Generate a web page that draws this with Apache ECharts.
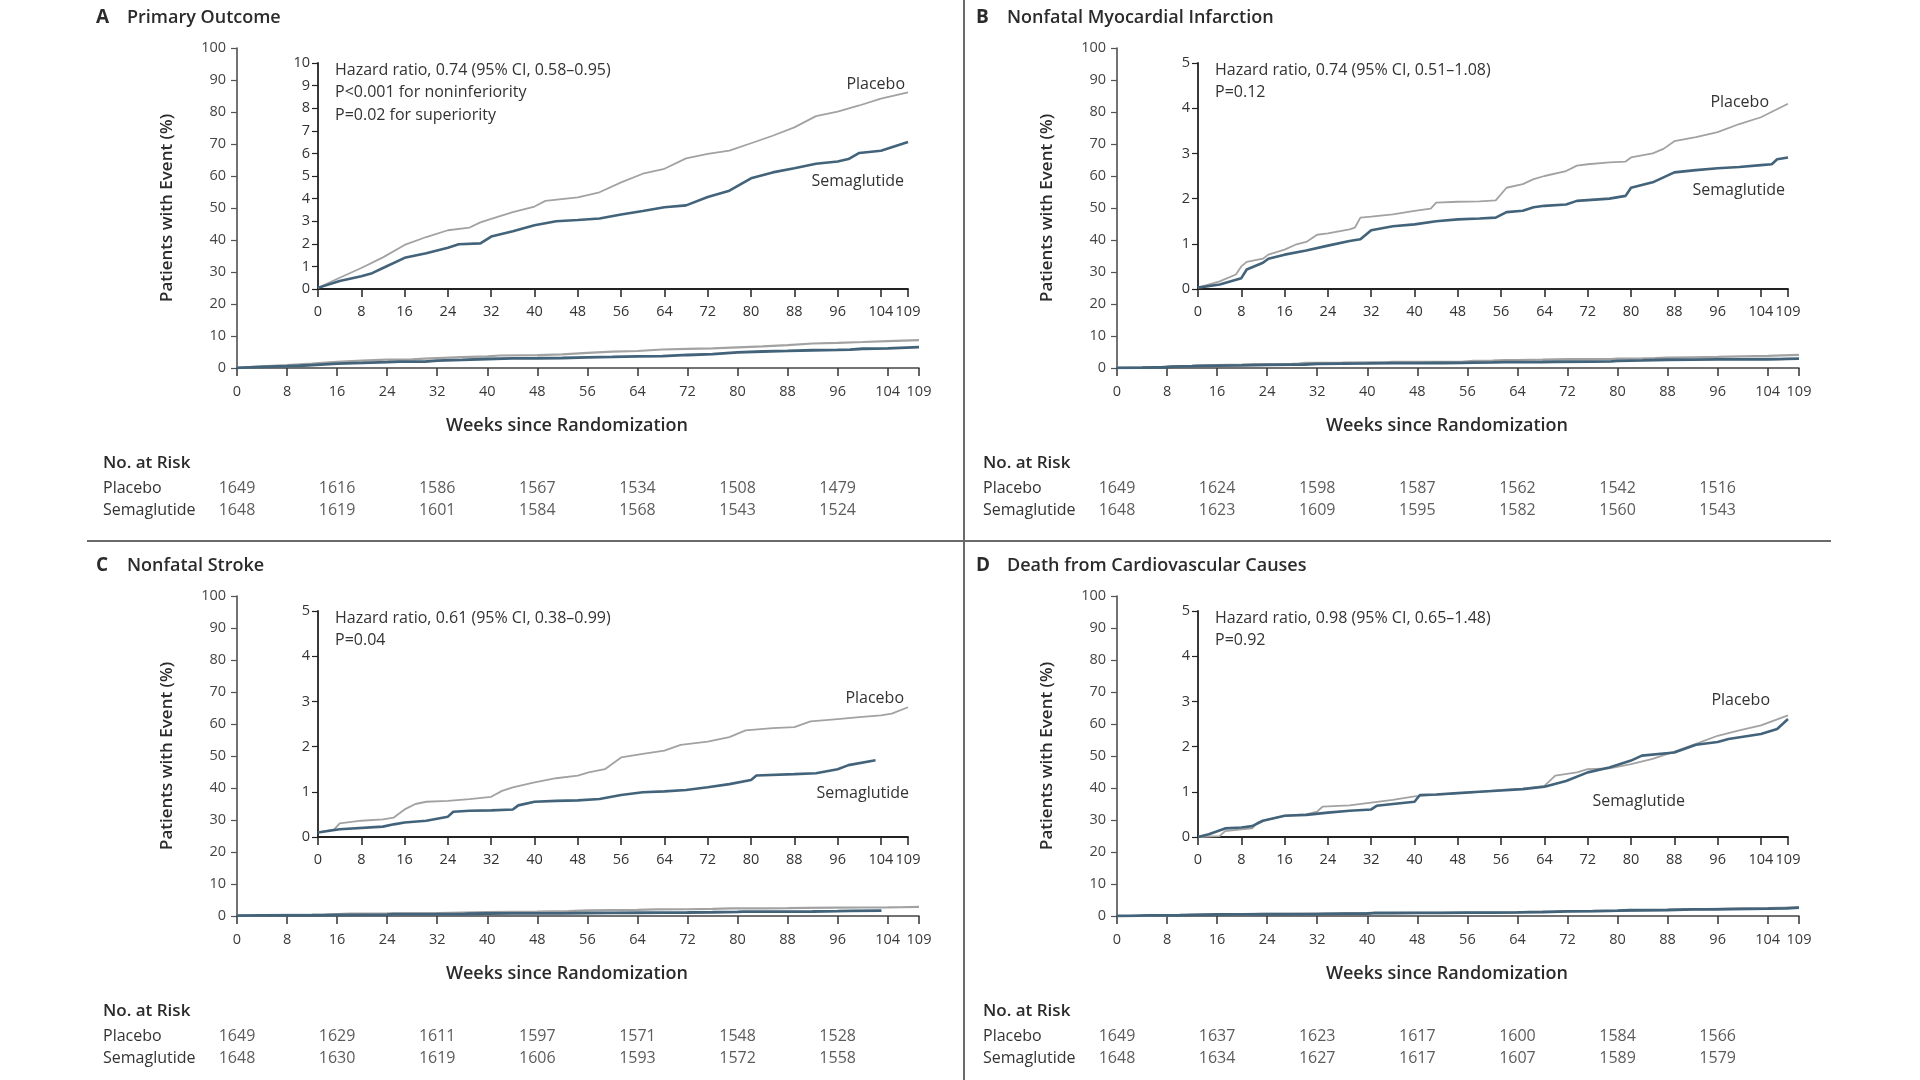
<!DOCTYPE html>
<html>
<head>
<meta charset="utf-8">
<script src="https://cdn.jsdelivr.net/npm/echarts@6/dist/echarts.min.js"></script>
<style>
html,body{margin:0;padding:0;background:#fff;}
#chart{width:1920px;height:1080px;}
</style>
</head>
<body>
<div id="chart"></div>
<script>
// ---------- tick labels ----------
const weekTicks = [0, 8, 16, 24, 32, 40, 48, 56, 64, 72, 80, 88, 96, 104, 109];
const riskWeeks = [0, 16, 32, 48, 64, 80, 96];
const riskRows = ['Placebo', 'Semaglutide'];

// ---------- panel texts ----------
const panelLetters = ['A', 'B', 'C', 'D'];
const panelTitles = ['Primary Outcome', 'Nonfatal Myocardial Infarction', 'Nonfatal Stroke', 'Death from Cardiovascular Causes'];
const aNotes = ['Hazard ratio, 0.74 (95% CI, 0.58\u20130.95)', 'P<0.001 for noninferiority', 'P=0.02 for superiority'];
const bNotes = ['Hazard ratio, 0.74 (95% CI, 0.51\u20131.08)', 'P=0.12'];
const cNotes = ['Hazard ratio, 0.61 (95% CI, 0.38\u20130.99)', 'P=0.04'];
const dNotes = ['Hazard ratio, 0.98 (95% CI, 0.65\u20131.48)', 'P=0.92'];
const insetMax = [10, 5, 5, 5];

// ---------- A: Primary outcome ----------
const aPlaceboWeeks = [0, 4, 8, 12, 16, 20, 24, 28, 30, 32, 36, 40, 42, 48, 52, 56, 60, 64, 68, 72, 76, 80, 84, 88, 92, 96, 100, 104, 109];
const aPlaceboPct   = [0.05, 0.5, 0.93, 1.4, 1.95, 2.3, 2.6, 2.72, 2.95, 3.1, 3.4, 3.65, 3.9, 4.05, 4.28, 4.72, 5.1, 5.32, 5.78, 5.98, 6.12, 6.45, 6.78, 7.15, 7.65, 7.85, 8.12, 8.42, 8.7];
const aSemaWeeks = [0, 4, 8, 10, 12, 16, 20, 24, 26, 30, 32, 36, 40, 44, 48, 52, 56, 60, 64, 68, 72, 76, 80, 84, 88, 92, 96, 98, 100, 104, 109];
const aSemaPct   = [0.05, 0.35, 0.56, 0.7, 0.93, 1.38, 1.58, 1.83, 1.98, 2.02, 2.32, 2.56, 2.82, 3.0, 3.05, 3.12, 3.3, 3.45, 3.62, 3.7, 4.07, 4.35, 4.9, 5.16, 5.34, 5.54, 5.64, 5.75, 6.02, 6.12, 6.5];
const aPlaceboRisk = [1649, 1616, 1586, 1567, 1534, 1508, 1479];
const aSemaRisk    = [1648, 1619, 1601, 1584, 1568, 1543, 1524];

// ---------- B: Nonfatal MI ----------
const bPlaceboWeeks = [0, 4, 7, 8, 9, 12, 13, 16, 18, 20, 22, 24, 28, 29, 30, 32, 36, 40, 43, 44, 48, 52, 55, 57, 60, 62, 64, 68, 70, 72, 76, 79, 80, 84, 86, 88, 92, 96, 100, 104, 109];
const bPlaceboPct   = [0.03, 0.17, 0.32, 0.5, 0.6, 0.67, 0.76, 0.87, 0.98, 1.04, 1.2, 1.23, 1.32, 1.36, 1.58, 1.6, 1.65, 1.73, 1.78, 1.91, 1.93, 1.94, 1.96, 2.24, 2.32, 2.43, 2.5, 2.61, 2.73, 2.76, 2.8, 2.82, 2.91, 3.0, 3.1, 3.27, 3.36, 3.47, 3.65, 3.8, 4.1];
const bSemaWeeks = [0, 4, 8, 9, 12, 13, 16, 20, 24, 28, 30, 32, 36, 40, 44, 48, 52, 55, 57, 60, 62, 64, 68, 70, 76, 79, 80, 84, 88, 92, 96, 100, 104, 106, 107, 109];
const bSemaPct   = [0.03, 0.1, 0.24, 0.43, 0.58, 0.67, 0.76, 0.85, 0.96, 1.06, 1.1, 1.3, 1.39, 1.43, 1.5, 1.54, 1.56, 1.58, 1.7, 1.73, 1.81, 1.84, 1.87, 1.95, 2.0, 2.06, 2.24, 2.36, 2.58, 2.63, 2.67, 2.7, 2.74, 2.76, 2.87, 2.91];
const bPlaceboRisk = [1649, 1624, 1598, 1587, 1562, 1542, 1516];
const bSemaRisk    = [1648, 1623, 1609, 1595, 1582, 1560, 1543];

// ---------- C: Nonfatal stroke ----------
const cPlaceboWeeks = [0, 3, 4, 8, 12, 14, 16, 18, 20, 24, 28, 32, 34, 36, 40, 44, 48, 50, 53, 56, 60, 64, 67, 72, 76, 79, 84, 88, 91, 96, 100, 104, 106, 109];
const cPlaceboPct   = [0.1, 0.17, 0.3, 0.36, 0.39, 0.43, 0.61, 0.73, 0.78, 0.8, 0.84, 0.89, 1.02, 1.1, 1.21, 1.3, 1.36, 1.43, 1.5, 1.76, 1.84, 1.91, 2.04, 2.11, 2.21, 2.36, 2.41, 2.43, 2.56, 2.61, 2.65, 2.69, 2.73, 2.87];
const cSemaWeeks = [0, 4, 12, 14, 16, 20, 24, 25, 28, 32, 36, 37, 40, 44, 48, 52, 56, 60, 64, 68, 72, 76, 80, 81, 88, 92, 96, 98, 103];
const cSemaPct   = [0.1, 0.17, 0.23, 0.28, 0.32, 0.36, 0.45, 0.56, 0.58, 0.59, 0.61, 0.7, 0.78, 0.8, 0.81, 0.84, 0.93, 0.99, 1.01, 1.04, 1.1, 1.17, 1.26, 1.36, 1.39, 1.41, 1.5, 1.59, 1.7];
const cPlaceboRisk = [1649, 1629, 1611, 1597, 1571, 1548, 1528];
const cSemaRisk    = [1648, 1630, 1619, 1606, 1593, 1572, 1558];

// ---------- D: CV death ----------
const dPlaceboWeeks = [0, 4, 5, 8, 10, 11, 12, 16, 20, 22, 23, 28, 32, 36, 40, 44, 48, 52, 56, 60, 64, 66, 70, 72, 76, 80, 84, 88, 92, 96, 100, 104, 109];
const dPlaceboPct   = [0, 0.02, 0.13, 0.17, 0.19, 0.32, 0.36, 0.47, 0.5, 0.56, 0.67, 0.7, 0.76, 0.82, 0.9, 0.93, 0.97, 1.0, 1.04, 1.07, 1.13, 1.36, 1.43, 1.5, 1.52, 1.61, 1.73, 1.89, 2.06, 2.24, 2.36, 2.47, 2.69];
const dSemaWeeks = [0, 2, 5, 8, 10, 12, 16, 20, 24, 28, 32, 33, 36, 40, 41, 44, 48, 52, 56, 60, 64, 68, 72, 76, 80, 82, 88, 92, 96, 98, 104, 107, 109];
const dSemaPct   = [0, 0.06, 0.19, 0.21, 0.24, 0.36, 0.47, 0.49, 0.54, 0.58, 0.61, 0.69, 0.73, 0.78, 0.93, 0.94, 0.97, 1.0, 1.03, 1.06, 1.11, 1.24, 1.43, 1.54, 1.69, 1.8, 1.87, 2.04, 2.1, 2.17, 2.28, 2.39, 2.61];
const dPlaceboRisk = [1649, 1637, 1623, 1617, 1600, 1584, 1566];
const dSemaRisk    = [1648, 1634, 1627, 1617, 1607, 1589, 1579];

// ---------- assemble ----------
const panels = [
  {notes: aNotes, pw: aPlaceboWeeks, pv: aPlaceboPct, sw: aSemaWeeks, sv: aSemaPct, pr: aPlaceboRisk, sr: aSemaRisk,
   pLab: [905, 84], sLab: [904, 181]},
  {notes: bNotes, pw: bPlaceboWeeks, pv: bPlaceboPct, sw: bSemaWeeks, sv: bSemaPct, pr: bPlaceboRisk, sr: bSemaRisk,
   pLab: [889, 102], sLab: [905, 190]},
  {notes: cNotes, pw: cPlaceboWeeks, pv: cPlaceboPct, sw: cSemaWeeks, sv: cSemaPct, pr: cPlaceboRisk, sr: cSemaRisk,
   pLab: [904, 150], sLab: [909, 245]},
  {notes: dNotes, pw: dPlaceboWeeks, pv: dPlaceboPct, sw: dSemaWeeks, sv: dSemaPct, pr: dPlaceboRisk, sr: dSemaRisk,
   pLab: [890, 152], sLab: [805, 253]}
];

const FONT = 'Open Sans';
const TXT = '#2b2b2b';
const PLACEBO_COLOR = '#a2a2a2';
const SEMA_COLOR = '#42637a';

const zip = (xs, ys) => xs.map((x, i) => [x, ys[i]]);

const grid = [], xAxis = [], yAxis = [], series = [], graphic = [];

panels.forEach((p, i) => {
  const dx = (i % 2) * 880;
  const dy = Math.floor(i / 2) * 548;
  const gMain = grid.length;
  grid.push({left: 237 + dx, top: 48 + dy, width: 682, height: 320});
  const gInset = grid.length;
  grid.push({left: 318 + dx, top: 63 + dy, width: 590, height: 226});
  const gRisk = grid.length;
  grid.push({left: 237 + dx, top: 477 + dy, width: 682, height: 44});

  // main axes
  xAxis.push({
    gridIndex: gMain, type: 'value', min: 0, max: 109, interval: 8,
    axisLine: {lineStyle: {color: '#444', width: 1.5}},
    axisTick: {length: 8, lineStyle: {color: '#333', width: 1.5}},
    axisLabel: {margin: 16, fontSize: 14.5, fontFamily: FONT, color: '#3a3a3a', showMaxLabel: true, showMinLabel: true},
    splitLine: {show: false},
    name: 'Weeks since Randomization', nameLocation: 'middle', nameGap: 49,
    nameTextStyle: {fontSize: 18, fontWeight: 600, fontFamily: FONT, color: TXT, padding: [0, 22, 0, 0]}
  });
  yAxis.push({
    gridIndex: gMain, type: 'value', min: 0, max: 100, interval: 10,
    axisLine: {show: true, lineStyle: {color: '#444', width: 1.5}},
    axisTick: {show: true, length: 6, lineStyle: {color: '#555', width: 1.2}},
    axisLabel: {margin: 11, fontSize: 14.5, fontFamily: FONT, color: '#444'},
    splitLine: {show: false},
    name: 'Patients with Event (%)', nameLocation: 'middle', nameGap: 61,
    nameTextStyle: {fontSize: 17, fontWeight: 600, fontFamily: FONT, color: TXT}
  });
  // inset axes
  xAxis.push({
    gridIndex: gInset, type: 'value', min: 0, max: 109, interval: 8,
    axisLine: {lineStyle: {color: '#222', width: 1.8}},
    axisTick: {length: 8, lineStyle: {color: '#222', width: 1.5}},
    axisLabel: {margin: 15, fontSize: 14.5, fontFamily: FONT, color: '#333', showMaxLabel: true, showMinLabel: true},
    splitLine: {show: false}
  });
  yAxis.push({
    gridIndex: gInset, type: 'value', min: 0, max: insetMax[i], interval: 1,
    axisLine: {show: true, lineStyle: {color: '#222', width: 1.8}},
    axisTick: {show: true, length: 6, lineStyle: {color: '#222', width: 1.2}},
    axisLabel: {margin: 8, fontSize: 14.5, fontFamily: FONT, color: '#333'},
    splitLine: {show: false}
  });
  // risk table axes
  xAxis.push({gridIndex: gRisk, type: 'value', min: 0, max: 109, show: false});
  yAxis.push({
    gridIndex: gRisk, type: 'category', data: riskRows, inverse: true,
    axisLine: {show: false}, axisTick: {show: false}, splitLine: {show: false},
    axisLabel: {align: 'left', margin: 134, fontSize: 16, fontFamily: FONT, color: '#333'}
  });

  const ax = xAxis.length; // indices: main = ax-3, inset = ax-2, risk = ax-1
  const iMain = ax - 3, iInset = ax - 2, iRisk = ax - 1;

  [[iMain, 2.2, 2.8], [iInset, 1.8, 2.6]].forEach(([idx, pwid, swid]) => {
    series.push({
      type: 'line', name: 'Placebo', xAxisIndex: idx, yAxisIndex: idx,
      data: zip(p.pw, p.pv), showSymbol: false, symbol: 'none', silent: true,
      lineStyle: {color: PLACEBO_COLOR, width: pwid}, z: 2
    });
    series.push({
      type: 'line', name: 'Semaglutide', xAxisIndex: idx, yAxisIndex: idx,
      data: zip(p.sw, p.sv), showSymbol: false, symbol: 'none', silent: true,
      lineStyle: {color: SEMA_COLOR, width: swid}, z: 3
    });
  });

  series.push({
    type: 'scatter', xAxisIndex: iRisk, yAxisIndex: iRisk, symbolSize: 1, silent: true,
    itemStyle: {color: 'rgba(0,0,0,0)'},
    data: riskWeeks.map((w, k) => [w, 0, p.pr[k]]).concat(riskWeeks.map((w, k) => [w, 1, p.sr[k]])),
    label: {show: true, position: 'inside', formatter: q => String(q.value[2]), fontSize: 16, fontFamily: FONT, color: '#333'}
  });

  // texts
  graphic.push({type: 'text', x: 96 + dx, y: 18 + dy, style: {text: panelLetters[i], fontSize: 19, fontWeight: 700, fontFamily: FONT, fill: TXT, align: 'left', verticalAlign: 'middle'}});
  graphic.push({type: 'text', x: 127 + dx, y: 18 + dy, style: {text: panelTitles[i], fontSize: 18, fontWeight: 600, fontFamily: FONT, fill: TXT, align: 'left', verticalAlign: 'middle'}});
  p.notes.forEach((t, k) => {
    graphic.push({type: 'text', x: 335 + dx, y: 70 + dy + k * 22.5, style: {text: t, fontSize: 16, fontFamily: FONT, fill: '#333', align: 'left', verticalAlign: 'middle'}});
  });
  graphic.push({type: 'text', x: p.pLab[0] + dx, y: p.pLab[1] + dy, style: {text: 'Placebo', fontSize: 16, fontFamily: FONT, fill: '#333', align: 'right', verticalAlign: 'middle'}});
  graphic.push({type: 'text', x: p.sLab[0] + dx, y: p.sLab[1] + dy, style: {text: 'Semaglutide', fontSize: 16, fontFamily: FONT, fill: '#333', align: 'right', verticalAlign: 'middle'}});
  graphic.push({type: 'text', x: 103 + dx, y: 463 + dy, style: {text: 'No. at Risk', fontSize: 17, fontWeight: 600, fontFamily: FONT, fill: TXT, align: 'left', verticalAlign: 'middle'}});
});

// dividers
graphic.push({type: 'line', shape: {x1: 964, y1: 0, x2: 964, y2: 1080}, style: {stroke: '#6a6a6a', lineWidth: 2}});
graphic.push({type: 'line', shape: {x1: 87, y1: 541, x2: 1831, y2: 541}, style: {stroke: '#6a6a6a', lineWidth: 2}});

const chart = echarts.init(document.getElementById('chart'));
chart.setOption({
  backgroundColor: '#ffffff',
  animation: false,
  textStyle: {fontFamily: FONT},
  grid, xAxis, yAxis, series, graphic
});
</script>
</body>
</html>
